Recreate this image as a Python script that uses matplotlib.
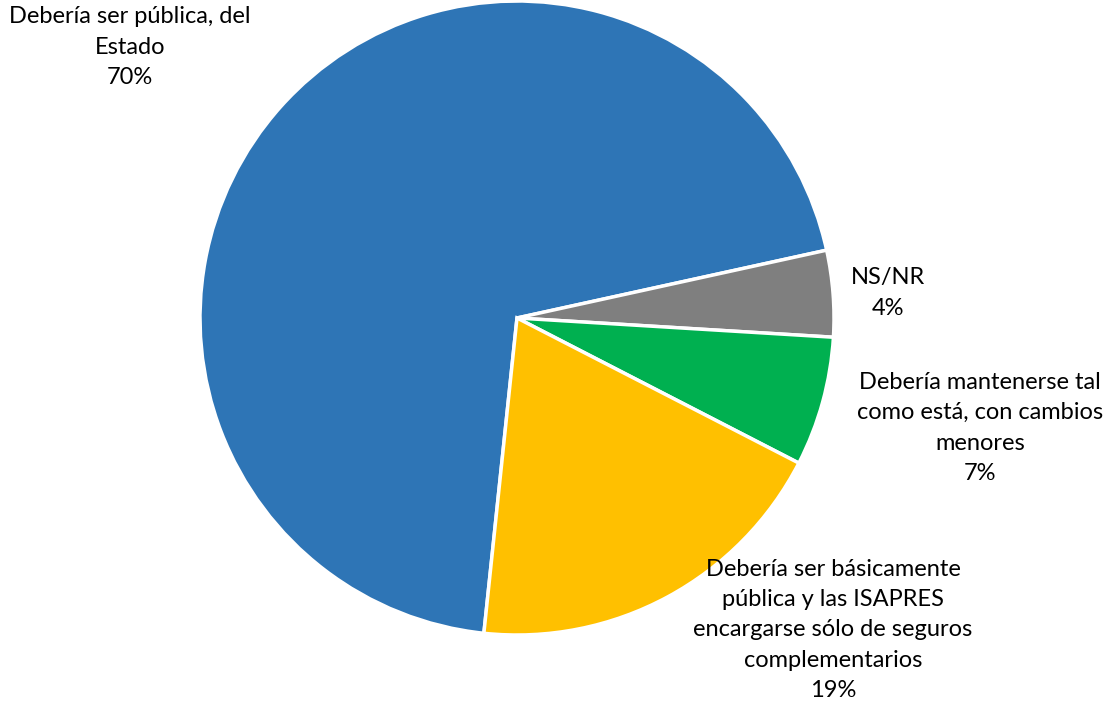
import matplotlib
matplotlib.use("Agg")
import matplotlib.pyplot as plt

# data
labels = [
    "Debería ser pública, del\nEstado",
    "NS/NR",
    "Debería mantenerse tal\ncomo está, con cambios\nmenores",
    "Debería ser básicamente\npública y las ISAPRES\nencargarse sólo de seguros\ncomplementarios",
]
values = [69.9, 4.4, 6.6, 19.1]
colors = ["#2E75B6", "#7F7F7F", "#00B050", "#FFC000"]

# label centres in pixel space (x right, y down)
label_pos = [(130, 47), (888, 293), (980, 428), (833, 630)]

W, H = 1112, 706
fig = plt.figure(figsize=(W / 100, H / 100), dpi=100)
ax = fig.add_axes([0, 0, 1, 1])

cx, cy, r = 517, H - 318, 317
ax.pie(values, colors=colors, startangle=264, counterclock=False,
       center=(cx, cy), radius=r,
       wedgeprops=dict(edgecolor="white", linewidth=2.5))

for lab, v, (x, y) in zip(labels, values, label_pos):
    ax.text(x, H - y, f"{lab}\n{round(v)}%", ha="center", va="center",
            fontsize=17, family="Lato", color="#000000", linespacing=1.55)

ax.set_xlim(0, W)
ax.set_ylim(0, H)
ax.set_aspect("equal")
ax.axis("off")

fig.savefig("out.png", dpi=100, facecolor="white")
